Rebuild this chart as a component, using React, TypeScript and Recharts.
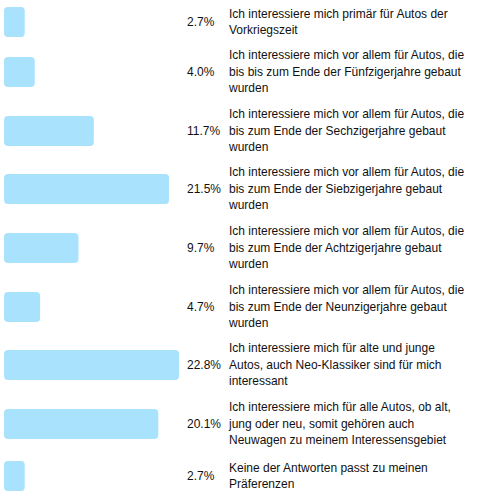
import React from "react";
import { BarChart, Bar, XAxis, YAxis, LabelList } from "recharts";

// answer texts, already broken into the lines shown in the survey
const answers: string[][] = [
  ["Ich interessiere mich primär für Autos der", "Vorkriegszeit"],
  ["Ich interessiere mich vor allem für Autos, die", "bis bis zum Ende der Fünfzigerjahre gebaut", "wurden"],
  ["Ich interessiere mich vor allem für Autos, die", "bis zum Ende der Sechzigerjahre gebaut", "wurden"],
  ["Ich interessiere mich vor allem für Autos, die", "bis zum Ende der Siebzigerjahre gebaut", "wurden"],
  ["Ich interessiere mich vor allem für Autos, die", "bis zum Ende der Achtzigerjahre gebaut", "wurden"],
  ["Ich interessiere mich vor allem für Autos, die", "bis zum Ende der Neunzigerjahre gebaut", "wurden"],
  ["Ich interessiere mich für alte und junge", "Autos, auch Neo-Klassiker sind für mich", "interessant"],
  ["Ich interessiere mich für alle Autos, ob alt,", "jung oder neu, somit gehören auch", "Neuwagen zu meinem Interessensgebiet"],
  ["Keine der Antworten passt zu meinen", "Präferenzen"],
];

// share of respondents in percent
const shares = [2.7, 4.0, 11.7, 21.5, 9.7, 4.7, 22.8, 20.1, 2.7];

const maxShare = Math.max(...shares);

const FONT = '"Liberation Sans", Helvetica, Arial, sans-serif';
const BAR_COLOR = "#a8e2fc";
const LINE_H = 16.5;

function Row({ lines, share, idx }: { lines: string[]; share: number; idx: number }) {
  const height = lines.length > 2 ? 58.7 : 43;
  const data = [{ name: `a${idx}`, share }];

  const renderText = (props: any) => {
    const { y, height: h } = props;
    const cy = Number(y) + Number(h) / 2;
    const top = cy - ((lines.length - 1) * LINE_H) / 2;
    return (
      <g>
        <text x={187} y={cy} dy={4} fontSize={12} fontFamily={FONT} fill="#111">
          {`${share.toFixed(1)}%`}
        </text>
        <text fontSize={12} fontFamily={FONT} fill="#111">
          {lines.map((l, i) => (
            <tspan key={i} x={229} y={top + i * LINE_H} dy={4}>
              {l}
            </tspan>
          ))}
        </text>
      </g>
    );
  };

  return (
    <BarChart
      width={480}
      height={height}
      data={data}
      layout="vertical"
      margin={{ top: 0, right: 301, bottom: 0, left: 4 }}
    >
      <XAxis type="number" domain={[0, maxShare]} hide />
      <YAxis type="category" dataKey="name" hide />
      <Bar dataKey="share" fill={BAR_COLOR} barSize={30} radius={4} isAnimationActive={false}>
        <LabelList dataKey="share" content={renderText} />
      </Bar>
    </BarChart>
  );
}

export default function App() {
  return (
    <div style={{ position: "absolute", left: 0, top: 0, width: 480, height: 501, background: "#fff" }}>
      {answers.map((lines, i) => (
        <Row key={i} lines={lines} share={shares[i]} idx={i} />
      ))}
    </div>
  );
}
